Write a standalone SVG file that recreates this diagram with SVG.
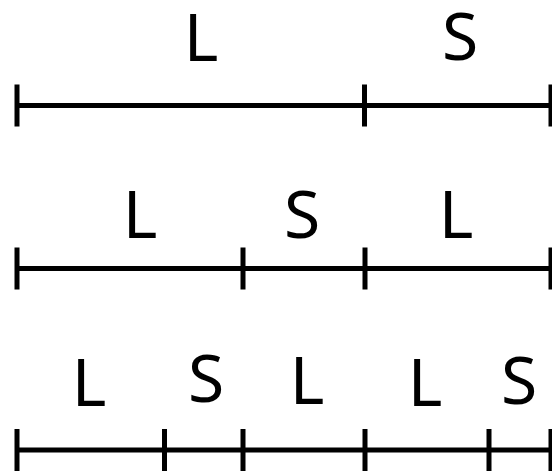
<svg xmlns="http://www.w3.org/2000/svg" width="552" height="471" viewBox="0 0 552 471">
<style>
.ln{stroke:#000;stroke-width:5;fill:none}
.t{font-family:"Noto Sans","Open Sans",sans-serif;font-size:66px;fill:#000;text-anchor:middle}
</style>
<rect width="552" height="471" fill="#fff"/>
<g id="row1">
<path class="ln" d="M17 105.5H552M17 84.5V126.5M364.5 84.5V126.5M551 84.5V126.5"/>
<text class="t" x="201" y="61">L</text>
<text class="t" x="460" y="60">S</text>
</g>
<g id="row2">
<path class="ln" d="M17 268.5H552M17 247.5V289.5M243 247.5V289.5M365 247.5V289.5M551 247.5V289.5"/>
<text class="t" x="140" y="238">L</text>
<text class="t" x="302" y="238">S</text>
<text class="t" x="456" y="238">L</text>
</g>
<g id="row3">
<path class="ln" d="M17 450H552M17 429V471M164.5 429V471M243 429V471M365 429V471M489 429V471M551 429V471"/>
<text class="t" x="89" y="406">L</text>
<text class="t" x="206" y="402">S</text>
<text class="t" x="307" y="404">L</text>
<text class="t" x="425" y="406">L</text>
<text class="t" x="519" y="404">S</text>
</g>
</svg>
